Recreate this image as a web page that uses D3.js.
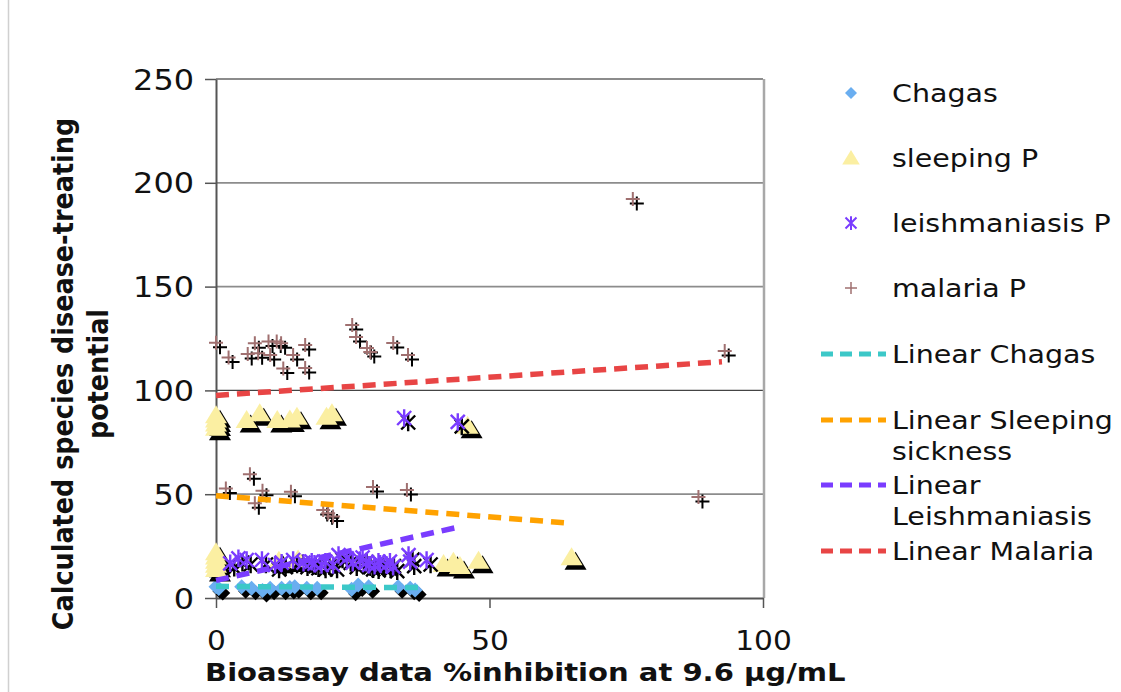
<!DOCTYPE html>
<html>
<head>
<meta charset="utf-8">
<script src="https://cdn.jsdelivr.net/npm/d3@7/dist/d3.min.js"></script>
<style>
  html, body { margin: 0; padding: 0; background: #fff; }
  svg { display: block; font-family: "DejaVu Sans", Verdana, sans-serif; }
</style>
</head>
<body>
<svg id="chart" width="1121" height="692"></svg>
<script>
// ---- data ----
const chagasX = [0, 0.5, 4.7, 6.5, 8.5, 9.9, 12, 13.5, 14.4, 16.6, 18.5, 24.8, 26, 27.9, 33.3, 35.5, 36.4];
const chagasY = [5.4, 4.6, 5.4, 4.7, 3.6, 4.7, 4.7, 5.0, 5.4, 4.7, 4.7, 4.2, 6.3, 5.4, 5.4, 4.7, 3.9];

const sleepingX = [0, 0, 0, 0, 5.6, 8.0, 11.2, 13.5, 14.8, 20.2, 21.2, 46,
                   0, 0, 0, 0, 0, 11.5, 15, 41.6, 43.4, 44.6, 48, 65];
const sleepingY = [82, 84, 86, 88, 85.7, 89, 85.7, 86, 87.3, 87.3, 89, 83,
                   14, 16, 18, 20, 22, 18, 18.5, 16.4, 17.5, 15.4, 18, 19.6];

const leishX = [2.6, 4.1, 5.6, 8.4, 10.8, 14.1, 17.5, 19.3, 21.4, 22.4, 23.9, 26.3, 27.5, 29.7,
                31.2, 32.4, 35.2, 35.5, 38.5, 12, 16, 18, 20, 25, 28, 30, 26.8, 29, 31.8, 34.4, 44.2];
const leishY = [16.7, 19.1, 18.3, 18.3, 15.9, 18.3, 17.5, 15.9, 15.9, 20.7, 19.1, 18.3, 17, 17.5,
                15.9, 15.1, 20.7, 17.5, 18.3, 17, 17, 16.5, 17.5, 17, 16, 16.5, 19.5, 15.5, 17.5, 86.7, 84.8];

const malariaX = [0, 2.3, 5.8, 7.1, 7.7, 9.6, 9.9, 11.1, 11.9, 12.3, 14.1, 16.3, 16.3,
                  24.9, 25.6, 27.6, 28.2, 32.4, 35.1, 76.2, 93,
                  1.8, 6.2, 8.5, 7.1, 13.7, 19.6, 20.5, 21.4, 28.7, 34.9, 88.2];
const malariaY = [122.9, 115.8, 117.5, 122.7, 117.9, 123.5, 117, 123.5, 122.7, 110.6, 117, 121.9, 110.8,
                  131.5, 125.7, 120.4, 118.5, 122.8, 117, 192.2, 119,
                  52.8, 59.6, 51.7, 45.6, 51.2, 42.4, 40.8, 39.2, 53.5, 52, 48.6];

// linear trend lines: start / end x and y
const trendNames = ["Chagas", "Sleeping", "Leishmaniasis", "Malaria"];
const trendX0 = [0, 0, 0, 0];
const trendX1 = [37.5, 64.5, 44.6, 92.5];
const trendY0 = [5.6, 49.3, 8.5, 97.6];
const trendY1 = [5.0, 36.1, 34.3, 113.8];

const xTicks = [0, 50, 100];
const yTicks = [0, 50, 100, 150, 200, 250];

const legendLabels = [["Chagas"], ["sleeping P"], ["leishmaniasis P"], ["malaria P"],
                      ["Linear Chagas"], ["Linear Sleeping", "sickness"],
                      ["Linear", "Leishmaniasis"], ["Linear Malaria"]];

// ---- layout ----
const svg = d3.select("#chart");
const SX = 1.14;                 // horizontal text stretch
const x = d3.scaleLinear().domain([0, 100]).range([216, 763]);
const y = d3.scaleLinear().domain([0, 250]).range([598, 79]);

const colors = {
  chagas: "#6aaef0", sleeping: "#fbefa2", leish: "#7a3cff", malaria: "#a07070",
  tChagas: "#3cc8c8", tSleeping: "#ffa200", tLeish: "#7a3cff", tMalaria: "#e84545"
};

// chart-area edge
svg.append("line").attr("x1", 8.5).attr("x2", 8.5).attr("y1", 0).attr("y2", 692)
  .attr("stroke", "#d0d0d0").attr("stroke-width", 1.5);

// gridlines
svg.append("g").selectAll("line").data(yTicks.filter(d => d > 0)).join("line")
  .attr("x1", x(0)).attr("x2", x(100))
  .attr("y1", d => y(d)).attr("y2", d => y(d))
  .attr("stroke", d => d === 100 ? "#444" : "#8c8c8c").attr("stroke-width", d => d === 100 ? 1.2 : 1.8);

// plot right border
svg.append("line").attr("x1", x(100) + 1).attr("x2", x(100) + 1).attr("y1", y(250)).attr("y2", y(0))
  .attr("stroke", "#a8a8a8").attr("stroke-width", 2.5);

// axes
const yAxis = svg.append("g").attr("transform", `translate(${x(0)},0)`)
  .call(d3.axisLeft(y).tickValues(yTicks).tickSize(11).tickSizeOuter(0));
const xAxis = svg.append("g").attr("transform", `translate(0,${y(0)})`)
  .call(d3.axisBottom(x).tickValues(xTicks).tickSize(10).tickSizeOuter(0));
[yAxis, xAxis].forEach(g => {
  g.select(".domain").attr("stroke", "#555").attr("stroke-width", 2);
  g.selectAll(".tick line").attr("stroke", "#555").attr("stroke-width", 1.5);
  g.selectAll("text").attr("fill", "#111")
    .attr("font-family", "DejaVu Sans, Verdana, sans-serif");
});
yAxis.selectAll("text").attr("font-size", 28).attr("x", 0).attr("dy", "0.36em")
  .attr("transform", `translate(-22,0) scale(${SX},1)`);
xAxis.selectAll("text").attr("font-size", 26).attr("y", 0).attr("dy", 0)
  .attr("transform", `translate(0,52) scale(${SX},1)`);

// ---- marker shapes ----
const diamond = s => `M0,${-s}L${s},0L0,${s}L${-s},0Z`;
const triangle = s => `M0,${-s}L${s * 1.1},${s * 0.8}L${-s * 1.1},${s * 0.8}Z`;
const plus = s => `M${-s},0H${s}M0,${-s}V${s}`;
const star = s => `M${-s},${-s}L${s},${s}M${-s},${s}L${s},${-s}M0,${-s * 1.25}V${s * 1.25}`;

function scatter(xs, ys, shape, fill, stroke, sw) {
  const pts = xs.map((v, i) => [v, ys[i]]);
  const g = svg.append("g");
  // drop shadow then the marker itself
  [{ dx: 4, dy: 4.5, f: fill ? "#000" : "none", s: stroke ? "#000" : "none" },
   { dx: 0, dy: 0, f: fill || "none", s: stroke || "none" }].forEach(layer => {
    g.append("g").selectAll("path").data(pts).join("path")
      .attr("transform", d => `translate(${x(d[0]) + layer.dx},${y(d[1]) + layer.dy})`)
      .attr("d", shape)
      .attr("fill", layer.f).attr("stroke", layer.s).attr("stroke-width", sw);
  });
}

const trendColors = [colors.tChagas, colors.tSleeping, colors.tLeish, colors.tMalaria];
const dash = "13,8";

scatter(chagasX, chagasY, diamond(7.5), colors.chagas, null, 0);
scatter(sleepingX, sleepingY, triangle(10), colors.sleeping, null, 0);
scatter(leishX, leishY, star(7), null, colors.leish, 2.4);
scatter(malariaX, malariaY, plus(7), null, colors.malaria, 2);

// trend lines
svg.append("g").selectAll("line").data(trendNames).join("line")
  .attr("x1", (d, i) => x(trendX0[i])).attr("x2", (d, i) => x(trendX1[i]))
  .attr("y1", (d, i) => y(trendY0[i])).attr("y2", (d, i) => y(trendY1[i]))
  .attr("stroke", (d, i) => trendColors[i]).attr("stroke-width", 5.5)
  .attr("stroke-dasharray", dash).attr("stroke-linecap", "butt");

// ---- legend ----
const legY = [93, 158, 223, 288, 354, 420, 485, 551];
const lg = svg.append("g");
const legMarkers = [
  { d: diamond(6), f: colors.chagas, s: "none", w: 0 },
  { d: triangle(8), f: colors.sleeping, s: "none", w: 0 },
  { d: star(5.5), f: "none", s: colors.leish, w: 2 },
  { d: plus(6), f: "none", s: colors.malaria, w: 1.5 }
];
legMarkers.forEach((m, i) => {
  lg.append("path").attr("transform", `translate(851,${legY[i]})`).attr("d", m.d)
    .attr("fill", m.f).attr("stroke", m.s).attr("stroke-width", m.w);
});
trendColors.forEach((c, i) => {
  lg.append("line").attr("x1", 821).attr("x2", 886)
    .attr("y1", legY[4 + i]).attr("y2", legY[4 + i])
    .attr("stroke", c).attr("stroke-width", 5).attr("stroke-dasharray", "12,7");
});
legendLabels.forEach((lines, i) => {
  lines.forEach((t, j) => {
    lg.append("text").attr("transform", `translate(892,${legY[i] + 9 + j * 31}) scale(${SX},1)`)
      .attr("font-size", 25).attr("fill", "#111").text(t);
  });
});

// ---- axis titles ----
svg.append("text")
  .attr("transform", `translate(205,681) scale(${SX},1)`)
  .attr("font-size", 25.5).attr("font-weight", "bold").attr("fill", "#111")
  .text("Bioassay data %inhibition at 9.6 µg/mL");

const yTitle = ["Calculated species disease-treating", "potential"];
yTitle.forEach((t, i) => {
  svg.append("text")
    .attr("transform", `translate(${63 + i * 35},374) scale(${SX},1) rotate(-90)`)
    .attr("text-anchor", "middle").attr("dy", "0.36em")
    .attr("font-size", 25.5).attr("font-weight", "bold").attr("fill", "#111")
    .text(t);
});
</script>
</body>
</html>
